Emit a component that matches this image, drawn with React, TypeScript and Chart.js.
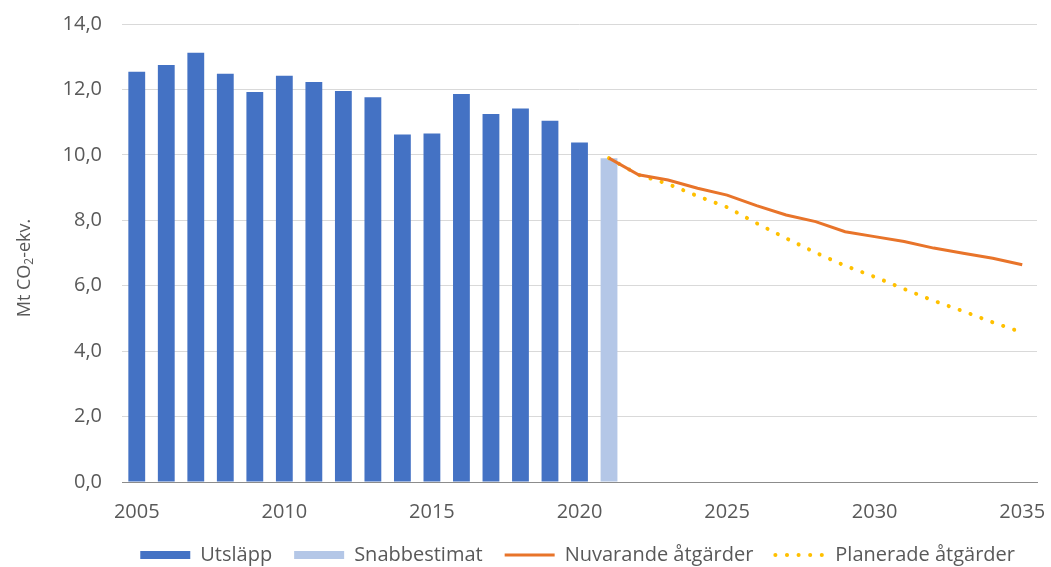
import { useEffect, useRef } from 'react';
import { Chart, registerables } from 'chart.js';

Chart.register(...registerables);

// Years on the category axis
const years = [
  '2005', '2006', '2007', '2008', '2009', '2010', '2011', '2012', '2013', '2014',
  '2015', '2016', '2017', '2018', '2019', '2020', '2021', '2022', '2023', '2024',
  '2025', '2026', '2027', '2028', '2029', '2030', '2031', '2032', '2033', '2034', '2035',
];

// Reported emissions, Mt CO2-eq (2005–2020)
const utslapp = [
  12.54, 12.75, 13.12, 12.48, 11.92, 12.42, 12.23, 11.95, 11.76, 10.62,
  10.65, 11.86, 11.25, 11.42, 11.04, 10.38, null, null, null, null,
  null, null, null, null, null, null, null, null, null, null, null,
];

// Preliminary estimate for 2021
const snabbestimat = [
  null, null, null, null, null, null, null, null, null, null,
  null, null, null, null, null, null, 9.9, null, null, null,
  null, null, null, null, null, null, null, null, null, null, null,
];

// Projection with current measures
const nuvarande = [
  null, null, null, null, null, null, null, null, null, null,
  null, null, null, null, null, null, 9.9, 9.39, 9.23, 8.98,
  8.77, 8.45, 8.16, 7.96, 7.65, 7.5, 7.35, 7.15, 6.99, 6.84, 6.64,
];

// Projection with planned measures
const planerade = [
  null, null, null, null, null, null, null, null, null, null,
  null, null, null, null, null, null, 9.9, 9.39, 9.11, 8.74,
  8.4, 7.91, 7.45, 7.01, 6.61, 6.27, 5.9, 5.54, 5.22, 4.88, 4.57,
];

const labels = ['Utsläpp', 'Snabbestimat', 'Nuvarande åtgärder', 'Planerade åtgärder'];

const BLUE = '#4472C4';
const LIGHT_BLUE = '#B4C7E7';
const ORANGE = '#E8742A';
const YELLOW = '#FFC000';
const TEXT = '#595959';
const FONT = "'Open Sans', sans-serif";

// Rotated y-axis title with a subscript "2"
const yTitlePlugin = {
  id: 'yTitle',
  afterDraw(chart: any) {
    const { ctx, chartArea } = chart;
    const cy = (chartArea.top + chartArea.bottom) / 2 + 15;
    const size = 18;
    const subSize = 12;
    ctx.save();
    ctx.translate(25, cy);
    ctx.rotate(-Math.PI / 2);
    ctx.fillStyle = TEXT;
    ctx.textBaseline = 'middle';
    ctx.textAlign = 'left';
    const big = `${size}px ${FONT}`;
    const small = `${subSize}px ${FONT}`;
    ctx.font = big;
    const a = 'Mt CO';
    const c = '-ekv.';
    const wa = ctx.measureText(a).width;
    const wc = ctx.measureText(c).width;
    ctx.font = small;
    const wb = ctx.measureText('2').width;
    const total = wa + wb + wc;
    let x = -total / 2;
    ctx.font = big;
    ctx.fillText(a, x, 0);
    x += wa;
    ctx.font = small;
    ctx.fillText('2', x, 5);
    x += wb;
    ctx.font = big;
    ctx.fillText(c, x, 0);
    ctx.restore();
  },
};

export default function App() {
  const ref = useRef<HTMLCanvasElement | null>(null);

  useEffect(() => {
    if (!ref.current) return;
    const chart = new Chart(ref.current, {
      type: 'bar',
      data: {
        labels: years,
        datasets: [
          {
            type: 'bar',
            label: labels[0],
            data: utslapp,
            backgroundColor: BLUE,
            barPercentage: 0.57,
            categoryPercentage: 1,
            grouped: false,
            order: 3,
          } as any,
          {
            type: 'bar',
            label: labels[1],
            data: snabbestimat,
            backgroundColor: LIGHT_BLUE,
            barPercentage: 0.57,
            categoryPercentage: 1,
            grouped: false,
            order: 3,
          } as any,
          {
            type: 'line',
            label: labels[2],
            data: nuvarande,
            borderColor: ORANGE,
            borderWidth: 3,
            pointRadius: 0,
            tension: 0,
            fill: false,
            order: 1,
          } as any,
          {
            type: 'line',
            label: labels[3],
            data: planerade,
            borderColor: YELLOW,
            borderWidth: 4,
            borderDash: [0.1, 11.5],
            borderCapStyle: 'round',
            pointRadius: 0,
            tension: 0,
            fill: false,
            order: 2,
          } as any,
        ],
      },
      options: {
        responsive: false,
        animation: false,
        layout: { padding: { top: 24, right: 14, bottom: 0, left: 0 } },
        plugins: {
          tooltip: { enabled: false },
          legend: {
            position: 'bottom',
            align: 'end',
            labels: {
              usePointStyle: true,
              pointStyleWidth: 50,
              boxHeight: 8,
              padding: 22,
              color: TEXT,
              font: { family: FONT, size: 20 },
              generateLabels: () => [
                { text: labels[0], fillStyle: BLUE, strokeStyle: BLUE, lineWidth: 0, pointStyle: 'rect', datasetIndex: 0, hidden: false, fontColor: TEXT },
                { text: labels[1], fillStyle: LIGHT_BLUE, strokeStyle: LIGHT_BLUE, lineWidth: 0, pointStyle: 'rect', datasetIndex: 1, hidden: false, fontColor: TEXT },
                { text: labels[2], fillStyle: ORANGE, strokeStyle: ORANGE, lineWidth: 3, pointStyle: 'line', datasetIndex: 2, hidden: false, fontColor: TEXT },
                { text: labels[3], fillStyle: YELLOW, strokeStyle: YELLOW, lineWidth: 4, lineDash: [0.1, 11.5], lineCap: 'round', pointStyle: 'line', datasetIndex: 3, hidden: false, fontColor: TEXT },
              ] as any,
            },
          },
        },
        scales: {
          x: {
            offset: true,
            grid: { display: false, drawTicks: false },
            border: { display: true, color: '#8C8C8C', width: 1 },
            ticks: {
              autoSkip: false,
              maxRotation: 0,
              minRotation: 0,
              padding: 18,
              color: TEXT,
              font: { family: FONT, size: 20 },
              callback(this: any, value: any) {
                const lab = this.getLabelForValue(value);
                return Number(lab) % 5 === 0 ? lab : '';
              },
            },
            afterFit(scale: any) {
              scale.height = 41;
              scale.paddingLeft = 0;
              scale.paddingRight = 0;
            },
          },
          y: {
            min: 0,
            max: 14,
            grid: { color: '#D9D9D9', lineWidth: 1, drawTicks: false },
            border: { display: false },
            ticks: {
              stepSize: 2,
              padding: 20,
              color: TEXT,
              font: { family: FONT, size: 20 },
              callback: (v: any) => Number(v).toFixed(1).replace('.', ','),
            },
            afterFit(scale: any) {
              scale.width = 122;
              scale.paddingTop = 0;
              scale.paddingBottom = 0;
            },
          },
        },
      },
      plugins: [yTitlePlugin],
    });
    return () => chart.destroy();
  }, []);

  return (
    <div style={{ position: 'absolute', left: 0, top: 0, width: 1051, height: 567, overflow: 'hidden', background: '#fff' }}>
      <canvas ref={ref} width={1051} height={575} style={{ display: 'block' }} />
    </div>
  );
}
